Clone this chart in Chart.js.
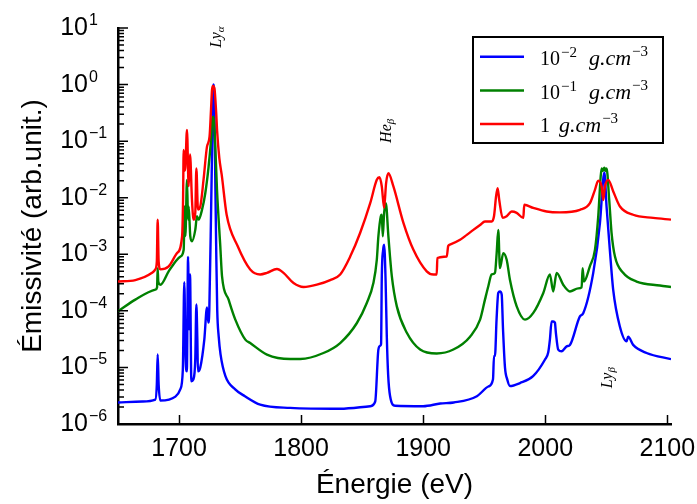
<!DOCTYPE html>
<html>
<head>
<meta charset="utf-8">
<script src="https://cdn.jsdelivr.net/npm/chart.js@4.4.1/dist/chart.umd.min.js"></script>
<style>
html,body{margin:0;padding:0;background:#fff;}
canvas{display:block;}
</style>
</head>
<body>
<canvas id="c" width="697" height="504"></canvas>
<script>
// ---- data ----
const xTicks = [1700, 1800, 1900, 2000, 2100];
const yTickExponents = [-6, -5, -4, -3, -2, -1, 0, 1];

const energyBlue = [1650,1670,1680.6,1681.8,1682.5,1683.3,1684.7,1697,1701,1703.1,1704.3,1705.4,1706.4,1707.4,1708.2,1709.0,1710.1,1711.7,1713.3,1714.2,1715,1715.5,1717.4,1720.7,1722.9,1724.0,1724.8,1726.4,1727.5,1728.1,1728.9,1729.7,1730.5,1731.3,1732.5,1734,1738,1746,1754,1766.5,1791,1832,1856.6,1860.7,1863.3,1864.7,1865.5,1866.1,1867.2,1868.0,1869.2,1870.2,1871.3,1872.9,1877,1900,1914,1925,1944,1953.4,1957.2,1958.0,1958.8,1960.1,1961.5,1962.9,1964.3,1965.4,1967,1968.9,1971.1,1979.3,1990,1999.8,2002.4,2003.8,2005.2,2006.5,2007.9,2008.7,2010.6,2013.4,2017.5,2020.2,2028.4,2031.1,2039.3,2044.8,2047.4,2048.4,2050.2,2052.9,2055.6,2061.1,2066.6,2067.9,2072,2083,2103];
const blueValues = [2.4e-6,2.5e-6,2.7e-6,5e-6,1.7e-5,5e-6,2.6e-6,3.05e-6,4.1e-6,9e-6,3.2e-4,1.4e-5,8.5e-6,9e-4,4.7e-5,4.4e-4,5.7e-6,6.1e-6,1.4e-5,1.3e-4,3.1e-5,8.5e-6,1e-5,3.1e-5,1.15e-4,6.2e-5,1.04e-4,9e-3,0.24,1.0,0.53,0.02,1e-3,1e-4,3.5e-5,1.7e-5,7e-6,4.1e-6,3.1e-6,2.2e-6,1.93e-6,1.86e-6,2.06e-6,2.5e-6,2.06e-5,2.4e-5,2.6e-5,4.1e-4,1.2e-3,1.48e-3,3.5e-4,3.5e-5,7.4e-6,3.1e-6,2.1e-6,2.06e-6,2.3e-6,2.4e-6,3.1e-6,4.6e-6,6.2e-6,1.6e-5,1.6e-5,7e-5,2.07e-4,2.2e-4,1.94e-4,4.7e-5,1e-5,6.1e-6,4.7e-6,5.3e-6,7e-6,1.38e-5,1.83e-5,3.1e-5,6.5e-5,6.5e-5,6.2e-5,4.1e-5,2.07e-5,1.93e-5,2.36e-5,2.5e-5,8e-5,9.1e-5,4.7e-4,3.6e-3,0.0207,0.028,7e-3,1.2e-3,2.4e-4,5.3e-5,2.9e-5,3.5e-5,2.5e-5,1.8e-5,1.4e-5];

const energyGreen = [1650,1664.2,1680.6,1682.0,1682.5,1683.0,1684.7,1691.5,1697,1701.1,1703.8,1704.6,1705.2,1706.5,1707.4,1707.9,1709.2,1710.6,1713.3,1714.7,1716,1718.8,1721.5,1724.2,1726.2,1727.3,1728.1,1729.7,1731.1,1733.8,1735.2,1740.6,1746.1,1754.3,1758.3,1772,1791.1,1799.3,1818.3,1832,1845.7,1853.8,1859.2,1862,1863.3,1865.3,1866.1,1866.9,1868,1869.4,1871.5,1874.3,1878.4,1886.6,1897.5,1911.1,1924.7,1938.4,1946.6,1950.6,1953.3,1956.1,1958.8,1960.2,1961.5,1962.9,1965.6,1968.4,1971.1,1976.6,1983.4,1990.2,1998.4,2003.8,2006.5,2009.3,2014.7,2020.2,2027,2029.8,2030.6,2031.7,2036.6,2040.7,2043.4,2045.4,2046.2,2047.3,2048.4,2049.3,2050.2,2052.4,2054.3,2057.1,2063.8,2074.8,2093.9,2103];
const greenValues = [9.8e-5,1.58e-4,2.37e-4,2.6e-4,5.7e-4,3.3e-4,2.9e-4,5e-4,7.4e-4,9.1e-4,1.2e-3,7e-3,2.1e-3,0.0207,4.1e-3,7e-3,2.1e-3,1.7e-3,2.7e-3,4.7e-3,4.1e-3,6.1e-3,0.012,0.035,0.105,0.25,0.27,0.08,0.0138,1.38e-3,4.1e-4,1.58e-4,7e-5,3.1e-5,2.7e-5,1.69e-5,1.41e-5,1.41e-5,1.8e-5,2.7e-5,6.1e-5,1.38e-4,3.1e-4,8e-4,2.07e-3,4.7e-3,5e-3,2.07e-3,5.4e-3,8e-3,2.07e-3,4.1e-4,1.2e-4,4.1e-5,2.07e-5,1.76e-5,2.07e-5,3.5e-5,7e-5,1.58e-4,2.7e-4,4.4e-4,4.7e-4,1.05e-3,2.7e-3,5.7e-4,1.05e-3,8e-4,3.5e-4,1.2e-4,7e-5,9.2e-5,2.07e-4,4.4e-4,2.2e-4,4.7e-4,2.9e-4,2.2e-4,2.5e-4,2.6e-4,5.7e-4,3.3e-4,6.2e-4,1.2e-3,4.7e-3,0.0237,0.033,0.03,0.034,0.03,0.033,9.1e-3,2.4e-3,9.1e-4,4.7e-4,3.3e-4,2.8e-4,2.64e-4];

const energyRed = [1650,1664.2,1677.9,1680.6,1681.8,1682.5,1683.3,1684.7,1691.5,1698.4,1702.5,1703.3,1703.8,1704.5,1705.2,1706.5,1707.9,1709,1710.6,1711.9,1713.3,1714.2,1715.5,1717.4,1720.1,1722.9,1725,1726.2,1727,1727.8,1729,1730.5,1731.2,1733,1735,1739,1748,1758.3,1766.5,1772,1780.2,1785.6,1793.8,1802,1812.9,1823.8,1832,1840.2,1848.4,1856.6,1862,1864.2,1866.1,1868,1869.6,1871.5,1875.6,1883.8,1892,1902.9,1908.4,1911.1,1911.6,1919.3,1920.5,1921.9,1930.2,1935.7,1941.1,1946.6,1950.6,1956.1,1958,1959.7,1961,1962.3,1965.1,1968.4,1972.5,1976.6,1982,1982.8,1990.2,2001.1,2012,2028.4,2036.6,2040.7,2043.4,2046.2,2047.5,2048.9,2051.6,2055.7,2061.2,2072,2088.4,2103];
const redValues = [3.3e-4,3.5e-4,4.7e-4,5.4e-4,7.4e-4,4.1e-3,7.4e-4,5.4e-4,6.1e-4,1.05e-3,2.07e-3,9.1e-3,0.07,0.03,0.035,0.158,0.016,0.058,9.1e-3,4.1e-3,5.4e-3,0.033,6.2e-3,7e-3,0.021,0.08,0.12,0.36,0.8,0.95,0.85,0.3,0.15,0.05,0.025,5e-3,1.4e-3,5.4e-4,4.4e-4,4.7e-4,5.5e-4,4.7e-4,3.1e-4,2.64e-4,2.9e-4,3.5e-4,4.4e-4,9.1e-4,2.4e-3,8e-3,0.0207,0.023,0.0158,6.6e-3,0.018,0.027,0.0158,3.6e-3,1.2e-3,5e-4,4.4e-4,4.4e-4,8.6e-4,9.1e-4,1.4e-3,1.48e-3,1.8e-3,2.2e-3,2.7e-3,3.3e-3,3.8e-3,3.8e-3,4.7e-3,0.0105,0.0148,9.1e-3,4.4e-3,4.7e-3,5.7e-3,5.4e-3,4.4e-3,7.5e-3,6.6e-3,5.7e-3,5.5e-3,6.1e-3,8e-3,0.0138,0.020,0.0158,9.1e-3,0.0158,0.0207,0.0129,7e-3,5e-3,4.4e-3,4.1e-3];

const seriesColors = ['#0000ff', '#008000', '#ff0000'];
const legendBase = ['10', '10', '1'];
const legendExp = ['\u22122', '\u22121', ''];
const legendUnit = 'g.cm';
const legendUnitExp = '\u22123';

const annotations = [
  {main: 'Ly', sub: '\u03b1', x: 1730.5, y: 6.9},
  {main: 'He', sub: '\u03b2', x: 1869.6, y: 0.152},
  {main: 'Ly', sub: '\u03b2', x: 2050.5, y: 6.6e-6}
];

// ---- build ----
function pts(xs, ys) { return xs.map((x, i) => ({x: x, y: ys[i]})); }
const SANS = '"Liberation Sans", Arial, sans-serif';
const SERIF = '"Liberation Serif", "Times New Roman", serif';

const decorPlugin = {
  id: 'decor',
  afterDraw(chart) {
    const ctx = chart.ctx;
    const xs = chart.scales.x, ys = chart.scales.y;
    const ca = chart.chartArea;
    ctx.save();
    // inward ticks
    ctx.strokeStyle = '#000';
    ctx.lineWidth = 1.5;
    ctx.beginPath();
    xTicks.forEach(v => {
      const px = Math.round(xs.getPixelForValue(v)) + 0.5;
      ctx.moveTo(px, ca.bottom); ctx.lineTo(px, ca.bottom - 9);
    });
    yTickExponents.forEach(e => {
      const major = Math.pow(10, e);
      let py = ys.getPixelForValue(major);
      ctx.moveTo(ca.left, py); ctx.lineTo(ca.left + 10, py);
      if (e < yTickExponents[yTickExponents.length - 1]) {
        for (let m = 2; m <= 9; m++) {
          py = ys.getPixelForValue(m * major);
          ctx.moveTo(ca.left, py); ctx.lineTo(ca.left + 6, py);
        }
      }
    });
    ctx.stroke();

    // y tick labels 10^n
    ctx.fillStyle = '#000';
    yTickExponents.forEach(e => {
      const py = ys.getPixelForValue(Math.pow(10, e));
      ctx.font = '25px ' + SANS;
      ctx.textAlign = 'right';
      ctx.textBaseline = 'alphabetic';
      ctx.fillText('10', ca.left - 30, py + 7);
      ctx.font = '16px ' + SANS;
      ctx.textAlign = 'left';
      ctx.fillText(e < 0 ? '\u2212' + (-e) : String(e), ca.left - 29, py - 3);
    });

    // legend
    const bx = ca.right - 198, by = 37, bw = 190, bh = 106;
    ctx.fillStyle = '#fff';
    ctx.fillRect(bx, by, bw, bh);
    ctx.strokeStyle = '#000';
    ctx.lineWidth = 2;
    ctx.strokeRect(bx, by, bw, bh);
    chart.data.datasets.forEach((ds, i) => {
      const ly = by + 19.7 + i * 33.7;
      ctx.strokeStyle = ds.borderColor;
      ctx.lineWidth = 2.5;
      ctx.beginPath();
      ctx.moveTo(bx + 7, ly); ctx.lineTo(bx + 51, ly);
      ctx.stroke();
      ctx.fillStyle = '#000';
      ctx.textAlign = 'left';
      ctx.textBaseline = 'alphabetic';
      let tx = bx + 67;
      const base = ly + 8.3;
      ctx.font = '20px ' + SERIF;
      ctx.fillText(legendBase[i], tx, base);
      tx += ctx.measureText(legendBase[i]).width;
      if (legendExp[i]) {
        ctx.font = '15px ' + SERIF;
        ctx.fillText(legendExp[i], tx + 1, base - 8);
        tx += ctx.measureText(legendExp[i]).width + 1;
      }
      tx += legendExp[i] ? 12 : 9;
      ctx.font = 'italic 22px ' + SERIF;
      ctx.fillText(legendUnit, tx, base);
      tx += ctx.measureText(legendUnit).width;
      ctx.font = '15px ' + SERIF;
      ctx.fillText(legendUnitExp, tx + 1, base - 9);
    });

    // rotated line annotations
    annotations.forEach(a => {
      const cx = xs.getPixelForValue(a.x), cy = ys.getPixelForValue(a.y);
      ctx.save();
      ctx.translate(cx, cy);
      ctx.rotate(-Math.PI / 2);
      ctx.fillStyle = '#000';
      ctx.textAlign = 'left';
      ctx.textBaseline = 'alphabetic';
      ctx.font = 'italic 16px ' + SERIF;
      const w1 = ctx.measureText(a.main).width;
      ctx.font = 'italic 11px ' + SERIF;
      const w2 = ctx.measureText(a.sub).width;
      const sx = -(w1 + w2) / 2;
      ctx.font = 'italic 16px ' + SERIF;
      ctx.fillText(a.main, sx, 5);
      ctx.font = 'italic 11px ' + SERIF;
      ctx.fillText(a.sub, sx + w1, 8);
      ctx.restore();
    });
    ctx.restore();
  }
};

new Chart(document.getElementById('c').getContext('2d'), {
  type: 'line',
  data: {
    datasets: [
      {label: '1e-2', data: pts(energyBlue, blueValues), borderColor: seriesColors[0], order: 3},
      {label: '1e-1', data: pts(energyGreen, greenValues), borderColor: seriesColors[1], order: 2},
      {label: '1', data: pts(energyRed, redValues), borderColor: seriesColors[2], order: 1}
    ]
  },
  options: {
    responsive: false,
    animation: false,
    devicePixelRatio: 1,
    layout: {padding: {left: 0, right: 26, top: 28, bottom: 0}},
    plugins: {legend: {display: false}, tooltip: {enabled: false}},
    elements: {
      point: {radius: 0},
      line: {cubicInterpolationMode: 'monotone', borderWidth: 2.4, fill: false, borderJoinStyle: 'round'}
    },
    scales: {
      x: {
        type: 'linear',
        min: 1650,
        max: 2103,
        afterBuildTicks: s => { s.ticks = xTicks.map(v => ({value: v})); },
        afterFit: s => { s.height = 80; s.paddingLeft = 0; s.paddingRight = 0; },
        grid: {display: false, drawTicks: false},
        border: {display: true, color: '#000', width: 2.5},
        ticks: {
          font: {family: SANS, size: 25},
          color: '#000',
          padding: 10,
          maxRotation: 0,
          autoSkip: false,
          callback: v => String(v)
        },
        title: {
          display: true,
          text: 'Énergie (eV)',
          font: {family: SANS, size: 28},
          color: '#000',
          padding: {top: 0, bottom: 2}
        }
      },
      y: {
        type: 'logarithmic',
        min: 1e-6,
        max: 10,
        afterFit: s => { s.width = 118; s.paddingTop = 0; s.paddingBottom = 0; },
        grid: {display: false, drawTicks: false},
        border: {display: true, color: '#000', width: 2.5},
        ticks: {display: false},
        title: {
          display: true,
          text: 'Émissivité (arb.unit.)',
          font: {family: SANS, size: 28},
          color: '#000',
          padding: {top: 16, bottom: 0}
        }
      }
    }
  },
  plugins: [decorPlugin]
});
</script>
</body>
</html>
